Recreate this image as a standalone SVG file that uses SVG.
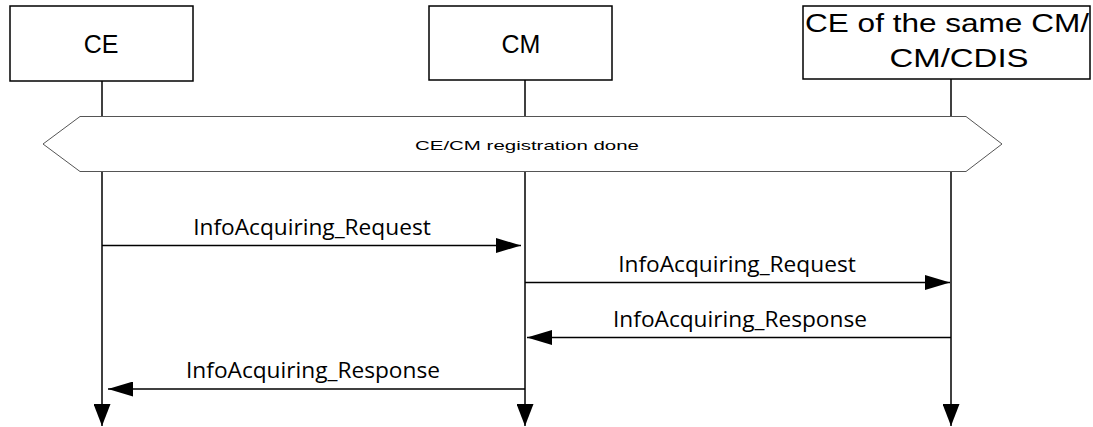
<svg xmlns="http://www.w3.org/2000/svg" width="1093" height="427" viewBox="0 0 1093 427">
<style>
.box{fill:#fff;stroke:#000;stroke-width:1.5}
.hdr{font-family:"Liberation Sans",Arial,sans-serif;font-size:25px;fill:#000;text-anchor:middle}
.life{stroke:#000;stroke-width:1.5;fill:none}
.msg{stroke:#000;stroke-width:1.5;fill:none}
.lbl{font-family:"Open Sans","Liberation Sans",sans-serif;font-size:22.7px;fill:#000;text-anchor:middle}
.hex{fill:#fff;stroke:#555;stroke-width:1}
.small{font-family:"Liberation Sans",Arial,sans-serif;font-size:13.5px;fill:#000;text-anchor:middle}
</style>
<defs>
<marker id="ah" viewBox="0 0 25 15" refX="25" refY="7.5" markerWidth="25" markerHeight="15" markerUnits="userSpaceOnUse" orient="auto">
<path d="M0,0 L25,7.5 L0,15 Z" fill="#000"/>
</marker>
<marker id="ahl" viewBox="0 0 22 17" refX="22" refY="8.5" markerWidth="22" markerHeight="17" markerUnits="userSpaceOnUse" orient="auto">
<path d="M0,0 L22,8.5 L0,17 Z" fill="#000"/>
</marker>
</defs>
<g id="connectors">
<line class="life" x1="102" y1="81" x2="102" y2="426" marker-end="url(#ahl)"/>
<line class="life" x1="525" y1="80" x2="525" y2="426" marker-end="url(#ahl)"/>
<line class="life" x1="951" y1="79" x2="951" y2="426" marker-end="url(#ahl)"/>
</g>
<g id="registration">
<polygon class="hex" points="43,144 80,116.5 966,116.5 1002,144 966,171.5 80,171.5"/>
<text class="small" x="527" y="150" textLength="224" lengthAdjust="spacingAndGlyphs">CE/CM registration done</text>
</g>
<g id="node-ce">
<rect class="box" x="10" y="6" width="183" height="75"/>
<text class="hdr" x="101" y="53">CE</text>
</g>
<g id="node-cm">
<rect class="box" x="429" y="6" width="183" height="74"/>
<text class="hdr" x="521" y="53">CM</text>
</g>
<g id="node-other">
<rect class="box" x="803" y="6" width="287" height="73"/>
<text class="hdr" x="947" y="32" font-size="24" textLength="284" lengthAdjust="spacingAndGlyphs">CE of the same CM/</text>
<text class="hdr" x="959" y="67" font-size="24" textLength="139" lengthAdjust="spacingAndGlyphs">CM/CDIS</text>
</g>
<g id="messages">
<line class="msg" x1="102" y1="245.5" x2="521" y2="245.5" marker-end="url(#ah)"/>
<text class="lbl" x="312" y="235">InfoAcquiring_Request</text>
<line class="msg" x1="525" y1="282.5" x2="950" y2="282.5" marker-end="url(#ah)"/>
<text class="lbl" x="737" y="272">InfoAcquiring_Request</text>
<line class="msg" x1="951" y1="337.5" x2="527" y2="337.5" marker-end="url(#ah)"/>
<text class="lbl" x="740" y="327">InfoAcquiring_Response</text>
<line class="msg" x1="525" y1="389" x2="108" y2="389" marker-end="url(#ah)"/>
<text class="lbl" x="313" y="378">InfoAcquiring_Response</text>
</g>
</svg>
